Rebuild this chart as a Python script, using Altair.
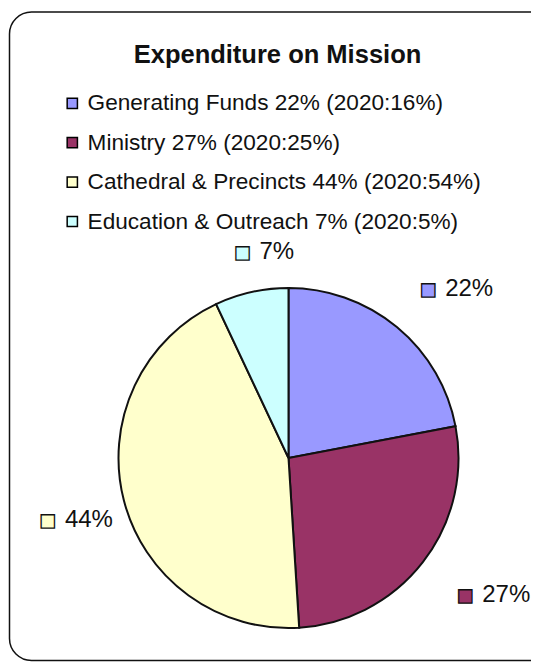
import altair as alt
import pandas as pd

# ---- data ----
categories = ["Generating Funds", "Ministry", "Cathedral & Precincts", "Education & Outreach"]
share_2021 = [22, 27, 44, 7]
share_2020 = [16, 25, 54, 5]
colors = ["#9999FF", "#993366", "#FFFFCC", "#CCFFFF"]
title_text = "Expenditure on Mission"

legend_labels = [f"{c} {v}% (2020:{p}%)" for c, v, p in zip(categories, share_2021, share_2020)]
df = pd.DataFrame({
    "category": categories,
    "legend": legend_labels,
    "value": share_2021,
    "pct": [f"{v}%" for v in share_2021],
    "idx": list(range(len(categories))),
})

W, H = 523, 654
CX, CY = 280.5, 450
R = 170

color_scale = alt.Scale(domain=legend_labels, range=colors)
color = alt.Color("legend:N", scale=color_scale,
                  legend=alt.Legend(title=None, orient="none", legendX=53, legendY=84,
                                    symbolType="square", symbolSize=105,
                                    symbolStrokeColor="black", symbolStrokeWidth=1.5,
                                    labelFont="Liberation Sans", labelFontSize=22.6,
                                    labelColor="#111111", labelLimit=0,
                                    labelOffset=4, rowPadding=16.4))

border = alt.Chart(alt.Data(values=[{}])).mark_rect(
    cornerRadius=22, fill="white", stroke="#111111", strokeWidth=1.5
).encode(x=alt.value(1.5), x2=alt.value(545), y=alt.value(4), y2=alt.value(652.5))

base = alt.Chart(df)

pie = base.mark_arc(outerRadius=R, stroke="#111111", strokeWidth=2).encode(
    theta=alt.Theta("value:Q", stack=True),
    color=color,
    order=alt.Order("idx:O"),
    x=alt.value(CX), y=alt.value(CY),
)

# label at the slice's middle angle; distance grows with the label's horizontal extent,
# and a bit more on the left where the text runs back towards the pie
lab = base.transform_joinaggregate(total="sum(value)").transform_window(
    cum="sum(value)", sort=[alt.SortField("idx")], frame=[None, 0]
).transform_calculate(
    mid="2 * PI * (datum.cum - datum.value / 2) / datum.total"
).transform_calculate(
    r="200 + 30 * abs(sin(datum.mid)) + (sin(datum.mid) < 0 ? 20 * abs(sin(datum.mid)) : 0)"
)

squares = lab.mark_text(text="■", font="DejaVu Sans", fontSize=17.5, stroke="#111111",
                        strokeWidth=1.3, align="center", baseline="middle", dy=1).encode(
    theta=alt.Theta("mid:Q", scale=None),
    radius=alt.Radius("r:Q", scale=None),
    color=alt.Color("legend:N", scale=color_scale, legend=None),
    x=alt.value(CX), y=alt.value(CY),
)

labels = lab.mark_text(font="Liberation Sans", fontSize=24, color="#111111",
                       align="left", baseline="middle", dx=17).encode(
    theta=alt.Theta("mid:Q", scale=None),
    radius=alt.Radius("r:Q", scale=None),
    text="pct:N",
    x=alt.value(CX), y=alt.value(CY),
)

chart = alt.layer(border, pie, squares, labels).properties(
    width=W, height=H, padding=0,
    autosize=alt.AutoSizeParams(type="none"),
    title=alt.TitleParams(title_text, font="Liberation Sans", fontSize=25.5, fontWeight="bold",
                          color="#111111", anchor="middle", dx=8, dy=64),
).configure_view(stroke=None)

chart.save("out.html", embed_options={"renderer": "svg", "actions": False})
